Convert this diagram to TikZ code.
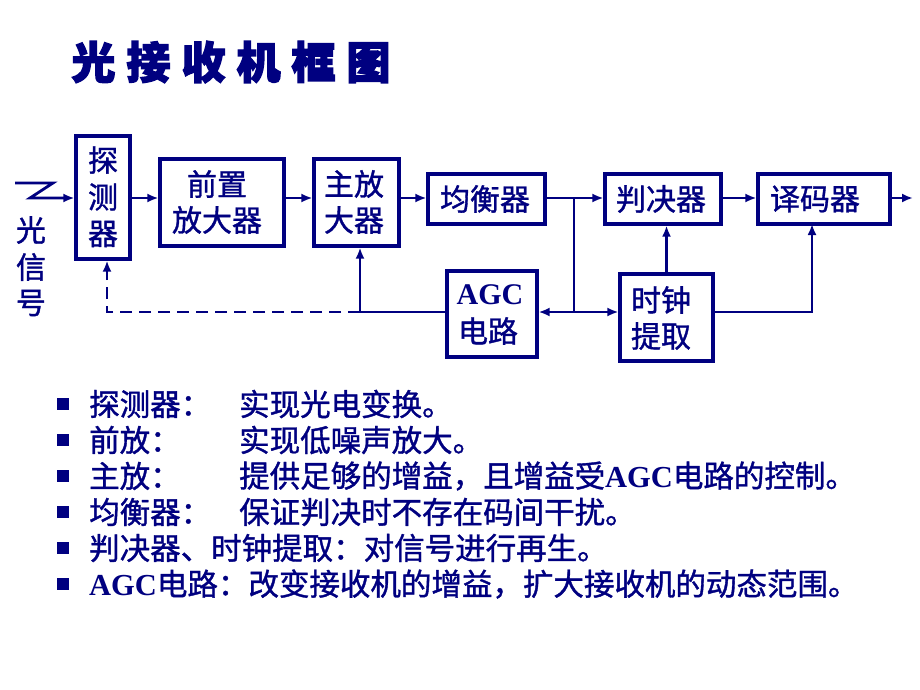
\documentclass[tikz,border=0pt]{standalone}
\usepackage{fontspec}
\setmainfont{Liberation Serif}
\newfontfamily\cjk[FakeBold=1.2]{Noto Sans CJK SC}
\newfontfamily\cjkt[FakeBold=3]{Noto Sans CJK SC}
\usetikzlibrary{arrows.meta}
\definecolor{navy}{RGB}{0,0,128}
\tikzset{
  blk/.style={draw=navy, line width=3.2pt, inner sep=0pt},
  txt/.style={text=navy, inner sep=0pt, font=\cjk\fontsize{30}{36}\selectfont},
  btxt/.style={text=navy, inner sep=0pt, anchor=west, font=\cjk\fontsize{30.5}{36}\selectfont},
  bul/.style={fill=navy, minimum size=12pt, inner sep=0pt},
  con/.style={draw=navy, line width=2.8pt},
  arr/.style={con, -{Latex[length=11pt,width=9pt]}},
}
\newcommand{\agc}{{\rmfamily\bfseries AGC}}
\begin{document}
\begin{tikzpicture}[x=1pt,y=-1pt]
\useasboundingbox (0,0) rectangle (920,690);
% title
\node[text=navy, inner sep=0pt, font=\cjkt\bfseries\fontsize{44}{50}\selectfont] (title) at (231,62)
  {光\hspace{11pt}接\hspace{11pt}收\hspace{11pt}机\hspace{11pt}框\hspace{11pt}图};
% blocks
\node[blk, minimum width=54pt, minimum height=123pt] (det) at (103,197.5) {};
\node[blk, minimum width=124pt, minimum height=87pt] (pre) at (222,202.5) {};
\node[blk, minimum width=85pt, minimum height=87pt] (main) at (356.5,202.5) {};
\node[blk, minimum width=117pt, minimum height=50pt] (eq) at (486.5,199) {};
\node[blk, minimum width=116pt, minimum height=50pt] (dec) at (663,199) {};
\node[blk, minimum width=132pt, minimum height=50pt] (cod) at (824,199) {};
\node[blk, minimum width=90pt, minimum height=86pt] (agcb) at (492,314) {};
\node[blk, minimum width=93pt, minimum height=87pt] (clk) at (666.5,317.5) {};
% block texts
\node[txt] (tdet1) at (103,160) {探};
\node[txt] (tdet2) at (103,197) {测};
\node[txt] (tdet3) at (103,234) {器};
\node[txt] (tpre1) at (217,184) {前置};
\node[txt] (tpre2) at (217,220) {放大器};
\node[txt] (tmain1) at (354,184) {主放};
\node[txt] (tmain2) at (354,220) {大器};
\node[txt] (teq) at (485,199) {均衡器};
\node[txt] (tdec) at (661,199) {判决器};
\node[txt] (tcod) at (815,199) {译码器};
\node[text=navy, inner sep=0pt, font=\rmfamily\bfseries\fontsize{30}{36}\selectfont] (tagc1) at (490,295) {AGC};
\node[txt] (tagc2) at (488,331) {电路};
\node[txt] (tclk1) at (661,300) {时钟};
\node[txt] (tclk2) at (661,336) {提取};
\node[txt] (sig1) at (31,230) {光};
\node[txt] (sig2) at (31,267) {信};
\node[txt] (sig3) at (31,303) {号};
% coordinates
\coordinate (zin) at (15,183);
\coordinate (zr) at (53,183);
\coordinate (zl) at (30,198);
\coordinate (J) at (574,198);
\coordinate (J2) at (574,312);
\coordinate (fb) at (360,312);
\coordinate (dl) at (107,312);
\coordinate (codin) at (812,224);
\coordinate (out) at (913,198);
% connectors
\draw[arr] (zin) -- (zr) -- (zl) -- (zl -| det.west);
\draw[arr] (det.east |- zl) -- (zl -| pre.west);
\draw[arr] (pre.east |- zl) -- (zl -| main.west);
\draw[arr] (main.east |- zl) -- (zl -| eq.west);
\draw[arr] (eq.east |- J) -- (J -| dec.west);
\draw[arr] (dec.east |- J) -- (J -| cod.west);
\draw[arr] (cod.east |- J) -- (out);
\draw[con] (J) -- (J2);
\draw[arr] (J2) -- (J2 -| agcb.east);
\draw[arr] (J2) -- (J2 -| clk.west);
\draw[arr] (clk.north) -- (clk.north |- dec.south);
\draw[arr] (J2 -| clk.east) -| (codin);
\draw[con] (J2 -| agcb.west) -- (fb);
\draw[arr] (fb) -- (fb |- main.south);
\draw[arr, dashed, dash pattern=on 12pt off 7pt] (fb) -- (dl) -- (dl |- det.south);
% bullet list
\node[bul] (b1) at (63,404) {};
\node[bul] (b2) at (63,440) {};
\node[bul] (b3) at (63,476) {};
\node[bul] (b4) at (63,512) {};
\node[bul] (b5) at (63,548) {};
\node[bul] (b6) at (63,584) {};
\node[btxt] (l1a) at (89,404) {探测器：};
\node[btxt] (l1b) at (239,404) {实现光电变换。};
\node[btxt] (l2a) at (89,440) {前放：};
\node[btxt] (l2b) at (239,440) {实现低噪声放大。};
\node[btxt] (l3a) at (89,476) {主放：};
\node[btxt] (l3b) at (239,476) {提供足够的增益，且增益受\agc 电路的控制。};
\node[btxt] (l4a) at (89,512) {均衡器：};
\node[btxt] (l4b) at (239,512) {保证判决时不存在码间干扰。};
\node[btxt] (l5) at (89,548) {判决器、时钟提取：对信号进行再生。};
\node[btxt] (l6) at (89,584) {\agc 电路：改变接收机的增益，扩大接收机的动态范围。};
\end{tikzpicture}
\end{document}
